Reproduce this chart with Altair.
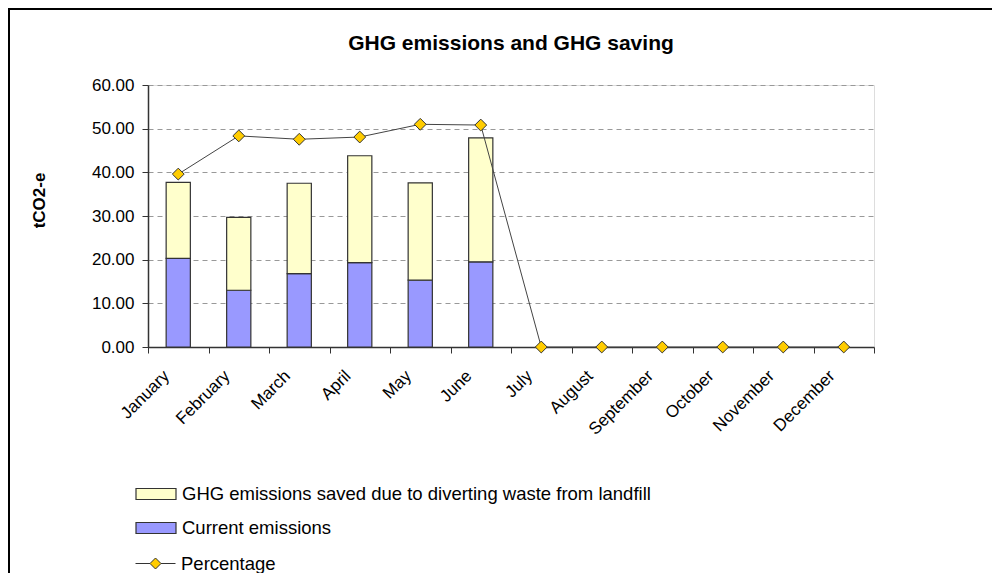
import altair as alt
import pandas as pd

months = ["January", "February", "March", "April", "May", "June",
          "July", "August", "September", "October", "November", "December"]
current = [20.3, 13.0, 16.8, 19.3, 15.3, 19.5, 0, 0, 0, 0, 0, 0]
saved = [17.4, 16.7, 20.7, 24.5, 22.3, 28.4, 0, 0, 0, 0, 0, 0]
percentage = [0.462, 0.564, 0.555, 0.561, 0.595, 0.593, 0, 0, 0, 0, 0, 0]
left_ticks = [0, 10, 20, 30, 40, 50, 60]
right_ticks = [0, 0.1, 0.2, 0.3, 0.4, 0.5, 0.6, 0.7]

SAVED = "GHG emissions saved due to diverting waste from landfill"
CUR = "Current emissions"
PCT = "Percentage"

rows = []
for i, m in enumerate(months):
    rows.append({"month": m, "series": CUR, "value": current[i], "order": 0})
    rows.append({"month": m, "series": SAVED, "value": saved[i], "order": 1})
bars_df = pd.DataFrame(rows)
pct_df = pd.DataFrame({"month": months, "pct": percentage, "series": [PCT] * len(months)})

FONT = "Liberation Sans"
DARK = "#333333"
AX = 17
LEG = 18.5

rect_path = "M-2,-0.55L2,-0.55L2,0.55L-2,0.55Z"
line_path = "M-2,0L-0.55,0M0.55,0L2,0M0,-0.55L0.55,0L0,0.55L-0.55,0Z"

x_enc = alt.X(
    "month:N", sort=months,
    scale=alt.Scale(paddingInner=0, paddingOuter=0),
    axis=alt.Axis(title=None, labelAngle=315, labelAlign="right", labelBaseline="middle",
                  labelPadding=20, labelOffset=-12, tickBand="extent", tickSize=6,
                  grid=False, domainColor=DARK, tickColor=DARK, domainWidth=1.5,
                  labelFontSize=AX, labelFont=FONT, labelColor="black"),
)

frame = alt.Chart(pd.DataFrame({"k": [0]})).mark_rect(
    fill="transparent", stroke="black", strokeWidth=2, clip=False
).encode(x=alt.value(-139), x2=alt.value(1000), y=alt.value(-76), y2=alt.value(800))

bars = alt.Chart(bars_df).transform_filter("datum.value > 0").mark_bar(
    width=alt.RelativeBandSize(0.4), stroke=DARK, strokeWidth=1.2
).encode(
    x=x_enc,
    y=alt.Y("value:Q", stack="zero", scale=alt.Scale(domain=[0, 60], nice=False),
            axis=alt.Axis(title="tCO2-e", values=left_ticks, format=".2f", tickSize=6,
                          labelPadding=8, labelFontSize=AX, labelFont=FONT, labelColor="black",
                          domainColor=DARK, tickColor=DARK, domainWidth=1.5,
                          grid=True, gridDash=[5, 4], gridColor="#999999",
                          titleFont=FONT, titleFontSize=AX, titleFontWeight="bold",
                          titleAngle=270, titleX=-109, titleY=115, titleAlign="center",
                          titleBaseline="middle", titleColor="black")),
    fill=alt.Fill("series:N", scale=alt.Scale(domain=[SAVED, CUR], range=["#FFFFCC", "#9999FF"]),
                  legend=alt.Legend(title=None, orient="none", legendX=-3, legendY=398,
                                    symbolType=rect_path, symbolSize=400,
                                    symbolStrokeColor=DARK, symbolStrokeWidth=1.2,
                                    labelFont=FONT, labelFontSize=LEG, labelColor="black",
                                    labelOffset=15, rowPadding=13, labelLimit=800, padding=0)),
    order=alt.Order("order:Q"),
)

y_right = alt.Y("pct:Q", scale=alt.Scale(domain=[0, 0.7], nice=False),
                axis=alt.Axis(orient="right", title=None, values=right_ticks, format=".2%",
                              tickSize=6, labelPadding=8, labelFontSize=AX, labelFont=FONT,
                              labelColor="black", domainColor=DARK, tickColor=DARK,
                              domainWidth=1.5, grid=False))

line = alt.Chart(pct_df).mark_line(color="#444444", strokeWidth=1).encode(x=x_enc, y=y_right)
points = alt.Chart(pct_df).mark_point(
    shape="diamond", filled=True, stroke=DARK, strokeWidth=1, size=140, opacity=1
).encode(
    x=x_enc,
    y=alt.Y("pct:Q", scale=alt.Scale(domain=[0, 0.7], nice=False), axis=None),
    fill=alt.Fill("series:N", scale=alt.Scale(domain=[PCT], range=["#FFCC00"]),
                  legend=alt.Legend(title=None, orient="none", legendX=-3, legendY=468,
                                    symbolType=line_path, symbolSize=400,
                                    symbolStrokeColor=DARK, symbolStrokeWidth=1,
                                    labelFont=FONT, labelFontSize=LEG, labelColor="black",
                                    labelOffset=15, labelLimit=800, padding=0)),
)

right_layer = alt.layer(line, points)

chart = alt.layer(frame, bars, right_layer).resolve_scale(
    y="independent", fill="independent"
).properties(
    width=726, height=262,
    autosize=alt.AutoSizeParams(type="none"),
    padding={"left": 140, "top": 77, "right": 118, "bottom": 226},
    title=alt.Title("GHG emissions and GHG saving", font=FONT, fontSize=21,
                    fontWeight="bold", color="black", anchor="middle", offset=0,
                    baseline="alphabetic", dy=63),
).configure_view(stroke="#999999", strokeWidth=1).configure(background="white")

chart.save("out.html", embed_options={"renderer": "svg", "actions": False})
